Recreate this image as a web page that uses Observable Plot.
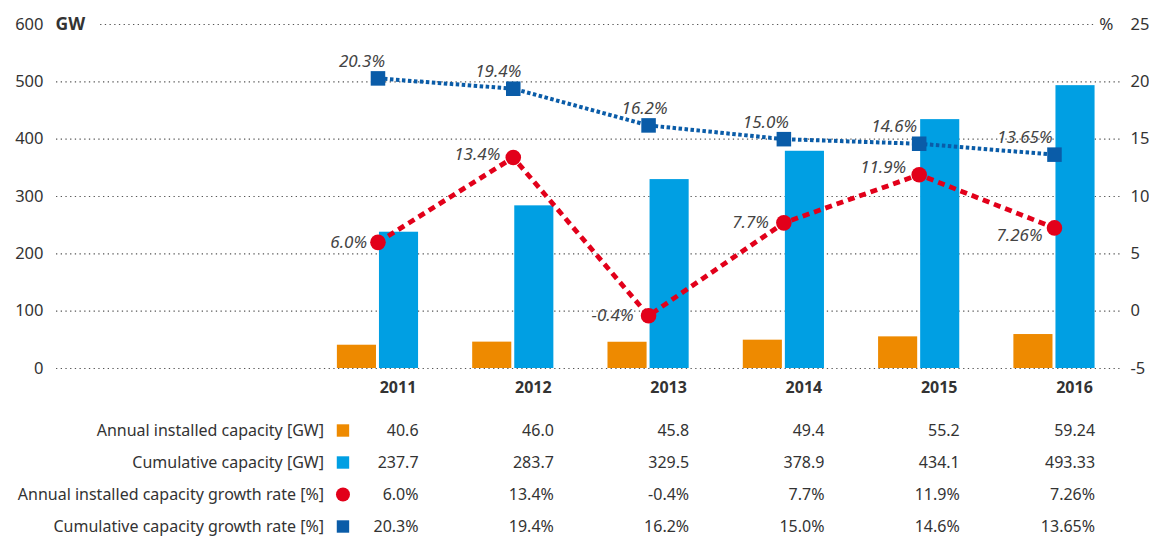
<!DOCTYPE html>
<html><head><meta charset="utf-8">
<script src="https://cdn.jsdelivr.net/npm/d3@7"></script>
<script src="https://cdn.jsdelivr.net/npm/@observablehq/plot@0.6"></script>
<style>
body{margin:0;background:#fff;font-family:"Noto Sans",sans-serif;}
svg{display:block}
</style></head><body><div id="chart"></div>
<script>
// ---- data ----
const years = [2011, 2012, 2013, 2014, 2015, 2016];
const annualGW = [40.6, 46.0, 45.8, 49.4, 55.2, 59.24];
const cumulativeGW = [237.7, 283.7, 329.5, 378.9, 434.1, 493.33];
const annualGrowth = [6.0, 13.4, -0.4, 7.7, 11.9, 7.26];
const cumulativeGrowth = [20.3, 19.4, 16.2, 15.0, 14.6, 13.65];
const gwTicks = [0, 100, 200, 300, 400, 500, 600];
const pctTicks = [-5, 0, 5, 10, 15, 20, 25];
const rowLabels = ["Annual installed capacity [GW]", "Cumulative capacity [GW]",
  "Annual installed capacity growth rate [%]", "Cumulative capacity growth rate [%]"];

// ---- helpers ----
const ORANGE = "#ee8a00", CYAN = "#009fe3", RED = "#e2001a", BLUE = "#0a5ca8", TXT = "#333";
const toGW = p => (p + 5) * 20; // right axis (%) mapped onto left axis (GW)
const fmt = v => { const s = String(v); const d = s.includes(".") ? s.split(".")[1].length : 0; return v.toFixed(Math.max(1, d)); };
const rows = years.map((year, i) => ({year, annual: annualGW[i], cum: cumulativeGW[i], ag: annualGrowth[i], cg: cumulativeGrowth[i]}));
const xDomain = [2008.624, 2016.488];
const W = 1149;

// label placement (pixels)
const redDx = [-11, -13, -15, -15, -13, -12], redDy = [0, -3, 0, 0, -7, 8];
const blueDx = [7, 8, 19, 5, -2, -2], blueDy = -17;

const font = {fontFamily: '"Noto Sans", sans-serif'};

const chart = Plot.plot({
  width: W, height: 405,
  marginTop: 24, marginBottom: 37, marginLeft: 56, marginRight: 29,
  style: {...font, fontSize: "16px", color: TXT, background: "white"},
  x: {type: "linear", domain: xDomain, axis: null},
  y: {domain: [0, 600], axis: null},
  marks: [
    Plot.ruleY(gwTicks.filter(d => d < 600), {stroke: "#555", strokeDasharray: "1.3,3.4", strokeWidth: 1.2}),
    Plot.ruleY([600], {x1: 2008.95, x2: 2016.29, stroke: "#555", strokeDasharray: "1.3,3.4", strokeWidth: 1.2}),
    Plot.axisY(gwTicks, {anchor: "left", tickSize: 0, tickPadding: 13, fill: TXT, fontSize: 16.5, label: null}),
    Plot.axisY(pctTicks, {y: toGW, anchor: "right", tickSize: 0, tickPadding: 10, text: d => String(d), fill: TXT, fontSize: 16.5, label: null}),
    Plot.text(["GW"], {frameAnchor: "top-left", textAnchor: "start", lineAnchor: "middle", dx: -1, fontWeight: "bold", fill: TXT, fontSize: 17.5}),
    Plot.text(["%"], {frameAnchor: "top-right", textAnchor: "end", lineAnchor: "middle", dx: -7, fill: TXT, fontSize: 17}),
    Plot.axisX(years, {anchor: "bottom", tickSize: 0, tickPadding: 13, dx: 20, fontWeight: "bold", fill: TXT, fontSize: 16, tickFormat: d => String(d), label: null}),
    Plot.rectY(rows, {x1: d => d.year - 0.3, x2: d => d.year - 0.011, y1: 0, y2: "annual", fill: ORANGE}),
    Plot.rectY(rows, {x1: d => d.year + 0.011, x2: d => d.year + 0.3, y1: 0, y2: "cum", fill: CYAN}),
    Plot.line(rows, {x: "year", y: d => toGW(d.cg), stroke: BLUE, strokeWidth: 4, strokeDasharray: "3.5,2.5", strokeLinecap: "butt"}),
    Plot.line(rows, {x: "year", y: d => toGW(d.ag), stroke: RED, strokeWidth: 4.8, strokeDasharray: "7,5", strokeLinecap: "butt"}),
    Plot.dot(rows, {x: "year", y: d => toGW(d.cg), symbol: "square", r: 8.2, fill: BLUE}),
    Plot.dot(rows, {x: "year", y: d => toGW(d.ag), r: 7.8, fill: RED}),
    ...rows.map((d, i) => Plot.text([d], {x: "year", y: d => toGW(d.ag), text: d => fmt(d.ag) + "%", textAnchor: "end", dx: redDx[i], dy: redDy[i], fontStyle: "italic", fill: "#444", fontSize: 17})),
    ...rows.map((d, i) => Plot.text([d], {x: "year", y: d => toGW(d.cg), text: d => fmt(d.cg) + "%", textAnchor: "end", dx: blueDx[i], dy: blueDy, fontStyle: "italic", fill: "#444", fontSize: 17}))
  ]
});

// ---- table below ----
const cells = [];
rows.forEach(d => {
  cells.push({year: d.year, row: rowLabels[0], t: fmt(d.annual)});
  cells.push({year: d.year, row: rowLabels[1], t: fmt(d.cum)});
  cells.push({year: d.year, row: rowLabels[2], t: fmt(d.ag) + "%"});
  cells.push({year: d.year, row: rowLabels[3], t: fmt(d.cg) + "%"});
});
const squareSw = [
  {row: rowLabels[0], fill: ORANGE},
  {row: rowLabels[1], fill: CYAN},
  {row: rowLabels[3], fill: BLUE}
];
const circleSw = [{row: rowLabels[2], fill: RED}];
const table = Plot.plot({
  width: W, height: 134,
  marginTop: 25, marginBottom: 13, marginLeft: 56, marginRight: 29,
  style: {...font, fontSize: "16px", color: TXT, background: "white"},
  x: {type: "linear", domain: xDomain, axis: null},
  y: {type: "point", domain: rowLabels, padding: 0, axis: null},
  marks: [
    Plot.text(rowLabels, {x: () => years[0], y: d => d, text: d => d, textAnchor: "end", dx: -54, fill: TXT, fontSize: 16}),
    Plot.dot(squareSw, {x: () => years[0], y: "row", dx: -35, fill: d => d.fill, symbol: "square", r: 7}),
    Plot.dot(circleSw, {x: () => years[0], y: "row", dx: -35, fill: d => d.fill, r: 7}),
    Plot.text(cells, {x: d => d.year + 0.3, y: "row", text: "t", textAnchor: "end", fill: TXT, fontSize: 16})
  ]
});

const root = document.getElementById("chart");
root.appendChild(chart);
root.appendChild(table);
</script></body></html>
